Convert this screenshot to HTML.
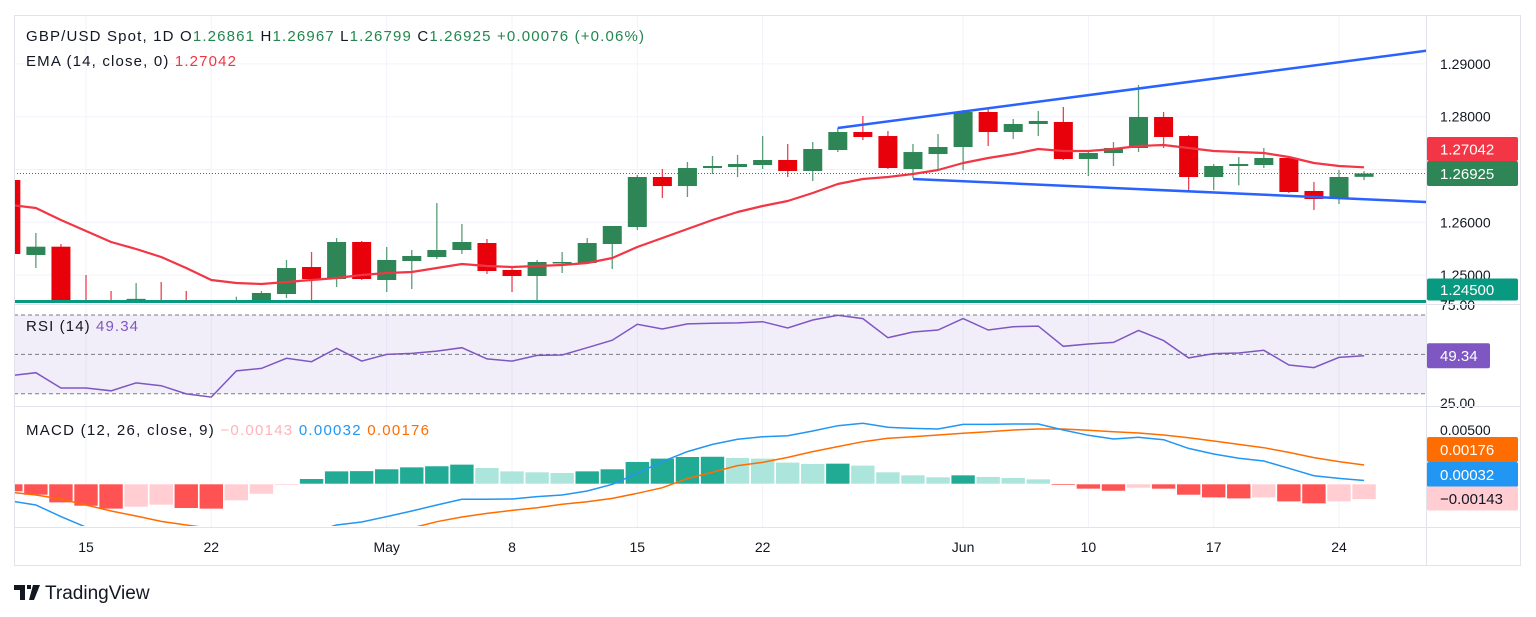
<!DOCTYPE html>
<html><head><meta charset="utf-8">
<style>
html,body{margin:0;padding:0;background:#fff;}
svg{display:block;font-family:"Liberation Sans",sans-serif;}
</style></head>
<body>
<svg id="chart" width="1536" height="617" viewBox="0 0 1536 617" xmlns="http://www.w3.org/2000/svg">
<defs>
<clipPath id="cpPrice"><rect x="14" y="15" width="1412" height="288"/></clipPath>
<clipPath id="cpRsi"><rect x="14" y="305" width="1412" height="101"/></clipPath>
<clipPath id="cpMacd"><rect x="14" y="408" width="1412" height="118"/></clipPath>
</defs>
<rect x="0" y="0" width="1536" height="617" fill="#fff"/>
<g id="grid"></g>
<g id="pricePane" clip-path="url(#cpPrice)"></g>
<g id="rsiPane" clip-path="url(#cpRsi)"></g>
<g id="macdPane" clip-path="url(#cpMacd)"></g>
<g id="axes"></g>
<line x1="14" y1="304.5" x2="1521" y2="304.5" stroke="#e0e3eb"/>
<line x1="14" y1="406.5" x2="1521" y2="406.5" stroke="#e0e3eb"/>
<rect x="14.5" y="15.5" width="1506" height="550" fill="none" stroke="#e0e3eb"/>
<line x1="1426.5" y1="15" x2="1426.5" y2="565" stroke="#e0e3eb"/>
<line x1="14" y1="527.5" x2="1521" y2="527.5" stroke="#e0e3eb"/>
<g font-size="15">
<text x="26" y="41" fill="#131722" textLength="618" lengthAdjust="spacing">GBP/USD Spot, 1D  O<tspan fill="#22864e">1.26861</tspan>  H<tspan fill="#22864e">1.26967</tspan>  L<tspan fill="#22864e">1.26799</tspan>  C<tspan fill="#22864e">1.26925  +0.00076 (+0.06%)</tspan></text>
<text x="26" y="66" fill="#131722" textLength="210" lengthAdjust="spacing">EMA (14, close, 0)  <tspan fill="#f23645">1.27042</tspan></text>
<text x="26" y="331" fill="#131722" textLength="112" lengthAdjust="spacing">RSI (14)  <tspan fill="#7e57c2">49.34</tspan></text>
<text x="26" y="435" fill="#131722" textLength="403" lengthAdjust="spacing">MACD (12, 26, close, 9)  <tspan fill="#ffb3ba">−0.00143</tspan>  <tspan fill="#2196f3">0.00032</tspan>  <tspan fill="#ff6d00">0.00176</tspan></text>
</g>
<g>
<path d="M14 585h11v15h-5v-10h-6z M27 585h4v4h-4z M33 585h7l-6 15h-5z" fill="#131722"/>
<text x="45" y="599" font-size="19" fill="#131722">TradingView</text>
</g>
</svg>
<script>
const dates=["Apr 10","Apr 11","Apr 12","Apr 15","Apr 16","Apr 17","Apr 18","Apr 19","Apr 22","Apr 23","Apr 24","Apr 25","Apr 26","Apr 29","Apr 30","May 1","May 2","May 3","May 6","May 7","May 8","May 9","May 10","May 13","May 14","May 15","May 16","May 17","May 20","May 21","May 22","May 23","May 24","May 27","May 28","May 29","May 30","May 31","Jun 3","Jun 4","Jun 5","Jun 6","Jun 7","Jun 10","Jun 11","Jun 12","Jun 13","Jun 14","Jun 17","Jun 18","Jun 19","Jun 20","Jun 21","Jun 24","Jun 25"];
const open=[1.26801,1.25381,1.25538,1.2449,1.2442,1.2410,1.2452,1.2440,1.2420,1.2430,1.2444,1.24642,1.25153,1.24926,1.25627,1.24907,1.25267,1.25343,1.25475,1.25608,1.25097,1.24983,1.2524,1.25229,1.25589,1.25911,1.26858,1.26687,1.27028,1.27047,1.27085,1.2718,1.26972,1.27369,1.2771,1.27634,1.27009,1.27293,1.27426,1.28089,1.2771,1.27862,1.279,1.27199,1.27312,1.27407,1.27994,1.27634,1.26858,1.27066,1.27085,1.27218,1.26593,1.26441,1.26861];
const high=[1.2690,1.25797,1.25589,1.25002,1.2470,1.2485,1.2487,1.2470,1.2445,1.2459,1.24699,1.25286,1.25437,1.25702,1.25646,1.25532,1.25475,1.26365,1.25968,1.25684,1.25153,1.25286,1.25437,1.25702,1.2593,1.26896,1.27009,1.27142,1.27256,1.27275,1.27634,1.27483,1.27521,1.27786,1.28013,1.27729,1.27483,1.27672,1.28127,1.28184,1.27956,1.28108,1.28184,1.27369,1.27521,1.286,1.28089,1.27653,1.27104,1.27237,1.27407,1.27256,1.26763,1.2699,1.26967];
const low=[1.2535,1.25134,1.2425,1.2415,1.2390,1.2395,1.2410,1.2400,1.2400,1.2420,1.2430,1.24566,1.2449,1.24775,1.24907,1.2468,1.24737,1.25305,1.254,1.25021,1.2468,1.24528,1.2504,1.2521,1.25116,1.25854,1.2646,1.26479,1.26915,1.26858,1.27009,1.26858,1.26782,1.27331,1.27559,1.27009,1.26839,1.2699,1.2699,1.27445,1.27578,1.27634,1.2718,1.26877,1.27066,1.27331,1.27407,1.26574,1.26612,1.267,1.27028,1.26555,1.26233,1.26346,1.26799];
const close=[1.25400,1.25538,1.2432,1.2442,1.2420,1.2455,1.2440,1.2420,1.2435,1.2449,1.24661,1.25134,1.24926,1.25627,1.24926,1.25286,1.25362,1.25475,1.25627,1.25078,1.24983,1.25248,1.25248,1.25608,1.2593,1.26858,1.26687,1.27028,1.27066,1.27104,1.2718,1.26972,1.27388,1.2771,1.27616,1.27028,1.27331,1.27426,1.28089,1.2771,1.27862,1.27919,1.27199,1.27312,1.27407,1.27994,1.27616,1.26858,1.27066,1.27104,1.27218,1.26574,1.26441,1.26858,1.26925];
const ema=[1.26328,1.26271,1.26044,1.25835,1.25627,1.25494,1.25343,1.25134,1.24907,1.2485,1.24831,1.24869,1.24907,1.24945,1.25002,1.2504,1.25059,1.25134,1.2521,1.25172,1.25153,1.25172,1.25191,1.25229,1.25324,1.25532,1.25702,1.25873,1.26044,1.26195,1.26309,1.26403,1.26555,1.26725,1.2682,1.26858,1.26915,1.2699,1.27123,1.27218,1.27293,1.27388,1.2735,1.2735,1.27388,1.27445,1.27464,1.27407,1.2735,1.27331,1.27312,1.27237,1.27123,1.27066,1.27042];
const rsi=[39.2,40.7,32.9,32.9,31.5,35.5,34.1,29.9,28.3,41.6,42.9,48.0,46.3,53.1,46.6,50.0,50.5,51.7,53.4,47.7,46.6,49.5,49.7,53.4,57.2,65.3,62.9,65.5,65.8,66.0,66.6,63.4,67.5,69.9,68.2,58.5,61.4,62.4,68.2,62.4,64.1,64.4,54.1,55.3,56.1,62.2,57.0,48.2,50.4,50.7,52.1,44.6,43.3,48.5,49.34];
const macd=[-0.00157,-0.00194,-0.00302,-0.0040,-0.0048,-0.0051,-0.0054,-0.0061,-0.0064,-0.0059,-0.0056,-0.0050,-0.0045,-0.0038,-0.00352,-0.00302,-0.0025,-0.00194,-0.00142,-0.00142,-0.00139,-0.00117,-0.00102,-0.00065,-0.00003,0.00099,0.00207,0.003,0.00367,0.00414,0.00438,0.00447,0.00491,0.0054,0.00562,0.00525,0.00515,0.00509,0.00552,0.00552,0.00556,0.00556,0.005,0.00451,0.00417,0.00432,0.0041,0.0033,0.00278,0.00238,0.00213,0.00145,0.00077,0.00052,0.00032];
const signal=[-0.00077,-0.00102,-0.00139,-0.00194,-0.0025,-0.00296,-0.00346,-0.0038,-0.0041,-0.0044,-0.0047,-0.0049,-0.0050,-0.0050,-0.00472,-0.00441,-0.00407,-0.00349,-0.00306,-0.00272,-0.00244,-0.00219,-0.00188,-0.00164,-0.00133,-0.00086,-0.00034,0.0005,0.0011,0.0017,0.0020,0.00246,0.003,0.00346,0.00392,0.00423,0.00438,0.00454,0.00469,0.00484,0.005,0.00509,0.00509,0.00497,0.00484,0.00472,0.00454,0.00429,0.00398,0.00367,0.00336,0.00293,0.00244,0.00207,0.00176];
const hist=[-0.0007,-0.00102,-0.00173,-0.00204,-0.00231,-0.00213,-0.00194,-0.00225,-0.00231,-0.00154,-0.00093,-0.00012,0.00049,0.0012,0.00122,0.00139,0.00157,0.00167,0.00182,0.00151,0.0012,0.00111,0.00105,0.0012,0.00139,0.00207,0.00238,0.00253,0.00255,0.00244,0.00238,0.00201,0.00188,0.00191,0.00173,0.00111,0.00083,0.00065,0.00083,0.00068,0.00059,0.00046,-0.00012,-0.00046,-0.00065,-0.00037,-0.00046,-0.00102,-0.00127,-0.00136,-0.00127,-0.00164,-0.00182,-0.00164,-0.00143];
const tickIdx=[3,8,15,20,25,30,38,43,48,53];
const tickLabels=["15","22","May","8","15","22","Jun","10","17","24"];
const priceTicks=[1.25,1.26,1.27,1.28,1.29];
const priceTickLabels=["1.25000","1.26000","","1.28000","1.29000"];
const rsiLevels=[70,50,30];
const upperTrend=[[33,1.27786],[56.5,1.2925]];
const lowerTrend=[[36,1.2682],[56.5,1.26384]];
const supportLevel=1.245;

const NS="http://www.w3.org/2000/svg";
const X=i=>10.82+i*25.06;
const PY=p=>116.7+(1.28-p)*5280;
const RY=v=>354.4-(v-50)*1.967;
const MY=v=>484-v*10800;
function mk(tag,attrs,parent,txt){const e=document.createElementNS(NS,tag);for(const k in attrs)e.setAttribute(k,attrs[k]);if(txt!==undefined)e.textContent=txt;parent.appendChild(e);return e;}
const grid=document.getElementById('grid'),pp=document.getElementById('pricePane'),rp=document.getElementById('rsiPane'),mp=document.getElementById('macdPane'),ax=document.getElementById('axes');

tickIdx.forEach((t,j)=>{
  const gl=mk('line',{x1:X(t),x2:X(t),y1:15,y2:527,stroke:'#f0f3fa'},grid);
  
  
  const tl=mk('text',{x:X(t),y:552,'text-anchor':'middle','font-size':14,fill:'#131722'},ax,tickLabels[j]);
  
  
});
priceTicks.forEach((p,j)=>{
  const gl=mk('line',{x1:14,x2:1426,y1:PY(p),y2:PY(p),stroke:'#f0f3fa'},grid);
  
  
  if(priceTickLabels[j]){
    const t=mk('text',{x:1440,y:PY(p)+5,'font-size':14,fill:'#131722'},ax,priceTickLabels[j]);
    
    
  }
});

const cur=close[close.length-1];
const dl=mk('line',{x1:14,x2:1426,y1:PY(cur),y2:PY(cur),stroke:'#22864e','stroke-dasharray':'1 2'},pp);


for(let i=0;i<close.length;i++){
  const up=close[i]>=open[i];
  const col=up?'#2e8555':'#e8000b';
  const g=mk('g',{},pp);
  
  
  mk('line',{x1:X(i),x2:X(i),y1:PY(high[i]),y2:PY(low[i]),stroke:up?'#5a9e78':'#ef4050','stroke-width':1.3},g);
  const top=PY(Math.max(open[i],close[i])),bot=PY(Math.min(open[i],close[i]));
  mk('rect',{x:X(i)-9.5,y:top,width:19,height:Math.max(1.5,bot-top),fill:col},g);
}
const emaPath=ema.map((v,i)=>(i?'L':'M')+X(i).toFixed(1)+' '+PY(v).toFixed(1)).join(' ');
const emaEl=mk('path',{d:emaPath,fill:'none',stroke:'#f23645','stroke-width':2.2,'stroke-linejoin':'round'},pp);


[upperTrend,lowerTrend].forEach((tr,j)=>{
  const l=mk('line',{x1:X(tr[0][0]),y1:PY(tr[0][1]),x2:X(tr[1][0]),y2:PY(tr[1][1]),stroke:'#2962ff','stroke-width':2.5},pp);
  
  
});
const sl=mk('line',{x1:14,x2:1426,y1:PY(supportLevel),y2:PY(supportLevel),stroke:'#089981','stroke-width':3},pp);



const band=mk('rect',{x:14,y:RY(70),width:1412,height:RY(30)-RY(70),fill:'#7e57c2','fill-opacity':0.1},rp);


rsiLevels.forEach(v=>{
  const l=mk('line',{x1:14,x2:1426,y1:RY(v),y2:RY(v),stroke:'#787b86','stroke-dasharray':'4 3','stroke-width':1},rp);
  
  
});
const rsiEl=mk('path',{d:rsi.map((v,i)=>(i?'L':'M')+X(i).toFixed(1)+' '+RY(v).toFixed(1)).join(' '),fill:'none',stroke:'#7e57c2','stroke-width':1.5},rp);



for(let i=0;i<hist.length;i++){
  const v=hist[i],prev=i?hist[i-1]:0;
  let col;
  if(v>=0)col=(v>=prev)?'#22ab94':'#ace5dc';else col=(v<prev||i===0)?'#ff5252':'#ffcdd2';
  const y0=MY(0),y1=MY(v);
  const r=mk('rect',{x:X(i)-12,y:Math.min(y0,y1),width:24,height:Math.max(1,Math.abs(y1-y0)),fill:col,stroke:'#fff','stroke-width':0.6},mp);
  
  
}
const sigEl=mk('path',{d:signal.map((v,i)=>(i?'L':'M')+X(i).toFixed(1)+' '+MY(v).toFixed(1)).join(' '),fill:'none',stroke:'#ff6d00','stroke-width':1.5},mp);


const macdEl=mk('path',{d:macd.map((v,i)=>(i?'L':'M')+X(i).toFixed(1)+' '+MY(v).toFixed(1)).join(' '),fill:'none',stroke:'#2196f3','stroke-width':1.5},mp);



function box(y,h,fill,txt,tc,name,w){
  const g=mk('g',{},ax);
  
  
  mk('rect',{x:1427,y:y-h/2,width:w||91,height:h,fill:fill,rx:2},g);
  mk('text',{x:1440,y:y+5.5,'font-size':15,fill:tc},g,txt);
}
const tl75=mk('text',{x:1440,y:310,'font-size':14,fill:'#131722'},ax,'75.00');


const tl25=mk('text',{x:1440,y:408,'font-size':14,fill:'#131722'},ax,'25.00');


const tl5=mk('text',{x:1440,y:435,'font-size':14,fill:'#131722'},ax,'0.00500');


const curY=PY(cur);
box(curY,25,'#2e8555',cur.toFixed(5),'#fff','last-price-label');
box(curY-24.5,24,'#f23645',ema[ema.length-1].toFixed(5),'#fff','ema-price-label');
box(289.5,22,'#089981',supportLevel.toFixed(5),'#fff','support-price-label');
box(RY(rsi[rsi.length-1]),25,'#7e57c2',rsi[rsi.length-1].toFixed(2),'#fff','rsi-value-label',63);
box(449.5,25,'#ff6d00',signal[signal.length-1].toFixed(5),'#fff','signal-value-label');
box(474.5,25,'#2196f3',macd[macd.length-1].toFixed(5),'#fff','macd-value-label');
box(498.5,24,'#ffcdd2','−'+Math.abs(hist[hist.length-1]).toFixed(5),'#131722','hist-value-label');
</script>
</body></html>
